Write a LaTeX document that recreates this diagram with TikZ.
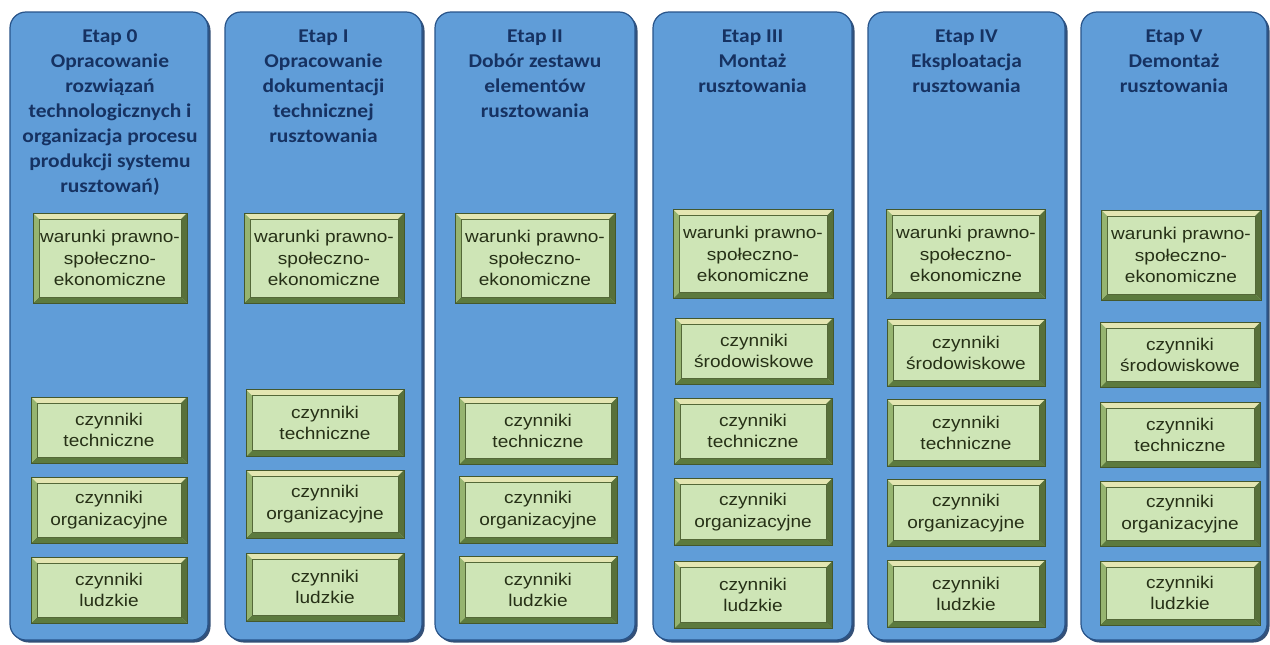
\documentclass[tikz,border=0pt]{standalone}
\usepackage{fontspec}
\newfontfamily\titlefont[FakeStretch=1.1]{Carlito}
\newfontfamily\boxfont[FakeStretch=1.12]{Liberation Sans}
\usetikzlibrary{shadows}
\definecolor{colfill}{RGB}{96,157,216}
\definecolor{colborder}{RGB}{40,84,138}
\definecolor{colshadow}{RGB}{30,62,105}
\definecolor{titlecol}{RGB}{22,50,98}
\definecolor{gface}{RGB}{206,229,182}
\definecolor{gedge}{RGB}{68,88,44}
\definecolor{bevtop}{RGB}{228,230,178}
\definecolor{bevleft}{RGB}{150,180,112}
\definecolor{bevbot}{RGB}{92,122,62}
\definecolor{bevright}{RGB}{88,112,58}
\definecolor{ginner}{RGB}{84,104,56}
\definecolor{boxtext}{RGB}{38,48,22}
\tikzset{
  column/.style={draw=colborder, line width=1.2pt, fill=colfill,
    rounded corners=16pt, minimum height=628pt, inner sep=0pt,
    drop shadow={shadow xshift=2.5pt, shadow yshift=-2.5pt, fill=colshadow, opacity=0.9}},
  coltitle/.style={anchor=north, inner sep=0pt, align=center, text=titlecol,
    font=\titlefont\bfseries\fontsize{19.5}{25}\selectfont},
  gbox/.style={draw=gedge, line width=1pt, fill=gface, inner sep=0pt,
    align=center, text=boxtext, font=\boxfont\fontsize{17}{21.5}\selectfont,
    path picture={
      \fill[bevtop] (path picture bounding box.north west) -- (path picture bounding box.north east)
        -- ([shift={(-6pt,-6pt)}]path picture bounding box.north east)
        -- ([shift={(6pt,-6pt)}]path picture bounding box.north west) -- cycle;
      \fill[bevbot] (path picture bounding box.south west) -- (path picture bounding box.south east)
        -- ([shift={(-6pt,6pt)}]path picture bounding box.south east)
        -- ([shift={(6pt,6pt)}]path picture bounding box.south west) -- cycle;
      \fill[bevleft] (path picture bounding box.north west)
        -- ([shift={(6pt,-6pt)}]path picture bounding box.north west)
        -- ([shift={(6pt,6pt)}]path picture bounding box.south west)
        -- (path picture bounding box.south west) -- cycle;
      \fill[bevright] (path picture bounding box.north east)
        -- ([shift={(-6pt,-6pt)}]path picture bounding box.north east)
        -- ([shift={(-6pt,6pt)}]path picture bounding box.south east)
        -- (path picture bounding box.south east) -- cycle;
      \draw[ginner, line width=0.8pt] ([shift={(6pt,6pt)}]path picture bounding box.south west)
        rectangle ([shift={(-6pt,-6pt)}]path picture bounding box.north east);
    }}
}
\newcommand{\gb}[6]{\node[gbox, minimum width=#4pt, minimum height=#5pt] (#1) at (#2,#3) {#6};}
\begin{document}
\begin{tikzpicture}[x=1pt,y=-1pt]
\useasboundingbox (0,0) rectangle (1270,645);
\fill[white] (0,0) rectangle (1270,645);
% columns
\node[column, minimum width=198pt] (c0) at (109,326) {};
\node[column, minimum width=197pt] (c1) at (323.5,326) {};
\node[column, minimum width=200pt] (c2) at (535,326) {};
\node[column, minimum width=199pt] (c3) at (752.5,326) {};
\node[column, minimum width=197pt] (c4) at (966.5,326) {};
\node[column, minimum width=186pt] (c5) at (1174,326) {};
% titles
\node[coltitle] (t0) at (110,29.5) {Etap 0\\Opracowanie\\rozwiązań\\technologicznych i\\organizacja procesu\\produkcji systemu\\rusztowań)};
\node[coltitle] (t1) at (323.5,29.5) {Etap I\\Opracowanie\\dokumentacji\\technicznej\\rusztowania};
\node[coltitle] (t2) at (535,29.5) {Etap II\\Dobór zestawu\\elementów\\rusztowania};
\node[coltitle] (t3) at (752.5,29.5) {Etap III\\Montaż\\rusztowania};
\node[coltitle] (t4) at (966.5,29.5) {Etap IV\\Eksploatacja\\rusztowania};
\node[coltitle] (t5) at (1174,29.5) {Etap V\\Demontaż\\rusztowania};
% column 0
\gb{w0}{110}{258}{154}{90}{warunki prawno-\\społeczno-\\ekonomiczne}
\gb{t0b}{109}{430}{156}{66}{czynniki\\techniczne}
\gb{o0}{109}{510}{156}{66}{czynniki\\organizacyjne}
\gb{l0}{109}{590}{156}{66}{czynniki\\ludzkie}
% column 1
\gb{w1}{324}{258}{160}{90}{warunki prawno-\\społeczno-\\ekonomiczne}
\gb{t1b}{325}{423}{158}{67}{czynniki\\techniczne}
\gb{o1}{325}{504}{158}{68}{czynniki\\organizacyjne}
\gb{l1}{325}{587}{158}{68}{czynniki\\ludzkie}
% column 2
\gb{w2}{535}{258}{160}{90}{warunki prawno-\\społeczno-\\ekonomiczne}
\gb{t2b}{538}{431}{158}{67}{czynniki\\techniczne}
\gb{o2}{538}{510}{158}{67}{czynniki\\organizacyjne}
\gb{l2}{538}{590}{158}{67}{czynniki\\ludzkie}
% column 3
\gb{w3}{753}{254}{160}{89}{warunki prawno-\\społeczno-\\ekonomiczne}
\gb{s3}{754}{351}{158}{66}{czynniki\\środowiskowe}
\gb{t3b}{753}{431}{158}{66}{czynniki\\techniczne}
\gb{o3}{753}{512}{158}{67}{czynniki\\organizacyjne}
\gb{l3}{753}{595}{158}{67}{czynniki\\ludzkie}
% column 4
\gb{w4}{966}{254}{159}{89}{warunki prawno-\\społeczno-\\ekonomiczne}
\gb{s4}{966}{353}{158}{67}{czynniki\\środowiskowe}
\gb{t4b}{966}{433}{158}{67}{czynniki\\techniczne}
\gb{o4}{966}{513}{158}{67}{czynniki\\organizacyjne}
\gb{l4}{966}{594}{158}{67}{czynniki\\ludzkie}
% column 5
\gb{w5}{1181}{255}{160}{90}{warunki prawno-\\społeczno-\\ekonomiczne}
\gb{s5}{1180}{355}{160}{65}{czynniki\\środowiskowe}
\gb{t5b}{1180}{435}{160}{65}{czynniki\\techniczne}
\gb{o5}{1180}{514}{160}{65}{czynniki\\organizacyjne}
\gb{l5}{1180}{593}{160}{64}{czynniki\\ludzkie}
\end{tikzpicture}
\end{document}
